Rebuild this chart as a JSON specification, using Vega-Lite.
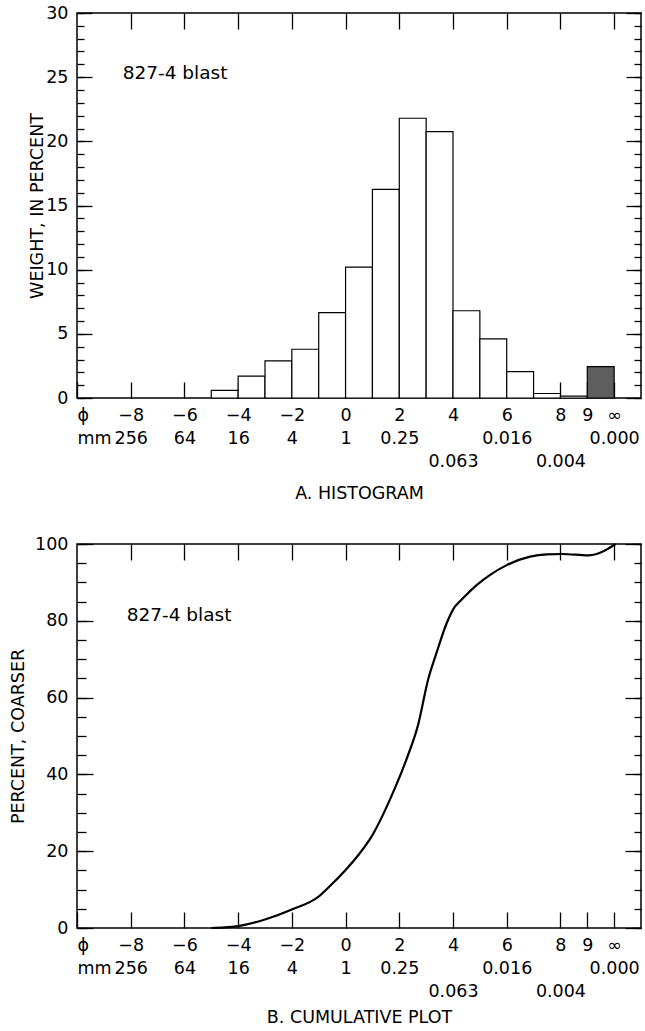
{
  "$schema": "https://vega.github.io/schema/vega-lite/v6.json",
  "background": "white",
  "padding": {"left": 8, "top": 3, "right": 3, "bottom": 3},
  "bounds": "flush",
  "spacing": 146,
  "config": {
    "font": "DejaVu Sans",
    "view": {"stroke": "black", "strokeWidth": 1.5},
    "axis": {
      "domain": false,
      "grid": false,
      "tickColor": "black",
      "tickWidth": 1.3,
      "labelColor": "black",
      "labelFont": "DejaVu Sans",
      "labelFontSize": 17.5,
      "titleFont": "DejaVu Sans",
      "titleFontSize": 17.5,
      "titleFontWeight": "normal",
      "titleColor": "black",
      "labelOverlap": false
    }
  },
  "vconcat": [
    {
      "width": 564,
      "height": 385,
      "data": {
        "values": [
          {"phi_lo": -5, "phi_hi": -4, "weight": 0.6, "part": "sieved"},
          {"phi_lo": -4, "phi_hi": -3, "weight": 1.7, "part": "sieved"},
          {"phi_lo": -3, "phi_hi": -2, "weight": 2.9, "part": "sieved"},
          {"phi_lo": -2, "phi_hi": -1, "weight": 3.8, "part": "sieved"},
          {"phi_lo": -1, "phi_hi": 0, "weight": 6.65, "part": "sieved"},
          {"phi_lo": 0, "phi_hi": 1, "weight": 10.2, "part": "sieved"},
          {"phi_lo": 1, "phi_hi": 2, "weight": 16.25, "part": "sieved"},
          {"phi_lo": 2, "phi_hi": 3, "weight": 21.8, "part": "sieved"},
          {"phi_lo": 3, "phi_hi": 4, "weight": 20.75, "part": "sieved"},
          {"phi_lo": 4, "phi_hi": 5, "weight": 6.8, "part": "sieved"},
          {"phi_lo": 5, "phi_hi": 6, "weight": 4.6, "part": "sieved"},
          {"phi_lo": 6, "phi_hi": 7, "weight": 2.05, "part": "sieved"},
          {"phi_lo": 7, "phi_hi": 8, "weight": 0.35, "part": "sieved"},
          {"phi_lo": 8, "phi_hi": 9, "weight": 0.15, "part": "sieved"},
          {"phi_lo": 9, "phi_hi": 10, "weight": 2.45, "part": "fines"}
        ]
      },
      "resolve": {"axis": {"x": "independent", "y": "independent"}},
      "layer": [
        {
          "mark": {"type": "bar", "stroke": "black", "strokeWidth": 1.2},
          "encoding": {
            "x": {
              "field": "phi_lo", "type": "quantitative",
              "scale": {"domain": [-10, 11], "nice": false, "zero": false},
              "axis": {
                "orient": "bottom",
                "values": [-10, -8, -6, -4, -2, 0, 2, 4, 6, 8, 9, 10],
                "tickSize": -16,
                "labelPadding": 24,
                "labelFlush": true,
                "labelLineHeight": 23,
                "labelExpr": "datum.value == -10 ? ['ϕ','mm'] : datum.value == -8 ? ['−8','256'] : datum.value == -6 ? ['−6','64'] : datum.value == -4 ? ['−4','16'] : datum.value == -2 ? ['−2','4'] : datum.value == 0 ? ['0','1'] : datum.value == 2 ? ['2','0.25'] : datum.value == 4 ? ['4','\u200b','0.063'] : datum.value == 6 ? ['6','0.016'] : datum.value == 8 ? ['8','\u200b','0.004'] : datum.value == 9 ? '9' : ['∞','0.000']",
                "title": "A. HISTOGRAM",
                "titlePadding": 15
              }
            },
            "x2": {"field": "phi_hi"},
            "y": {
              "field": "weight", "type": "quantitative",
              "scale": {"domain": [0, 30], "nice": false},
              "axis": {
                "orient": "left",
                "values": [0, 5, 10, 15, 20, 25, 30],
                "tickSize": -15,
                "labelPadding": 24,
                "title": "WEIGHT, IN PERCENT",
                "titlePadding": -1
              }
            },
            "y2": {"datum": 0},
            "fill": {
              "field": "part", "type": "nominal",
              "scale": {"domain": ["sieved", "fines"], "range": ["white", "#5e5e5e"]},
              "legend": null
            }
          }
        },
        {
          "mark": {"type": "point", "opacity": 0},
          "encoding": {
            "x": {"field": "phi_lo", "type": "quantitative",
              "axis": {"orient": "top", "values": [-8, -6, -4, -2, 0, 2, 4, 6, 8, 10], "labels": false, "tickSize": -16, "title": null}},
            "y": {"field": "weight", "type": "quantitative",
              "axis": {"orient": "right", "values": [0, 5, 10, 15, 20, 25, 30], "labels": false, "tickSize": -15, "title": null}}
          }
        },
        {
          "mark": {"type": "point", "opacity": 0},
          "encoding": {
            "x": {"field": "phi_lo", "type": "quantitative", "axis": null},
            "y": {"field": "weight", "type": "quantitative",
              "axis": {"orient": "left", "values": [0,1,2,3,4,5,6,7,8,9,10,11,12,13,14,15,16,17,18,19,20,21,22,23,24,25,26,27,28,29,30], "labels": false, "tickSize": -7, "title": null}}
          }
        },
        {
          "mark": {"type": "point", "opacity": 0},
          "encoding": {
            "x": {"field": "phi_lo", "type": "quantitative", "axis": null},
            "y": {"field": "weight", "type": "quantitative",
              "axis": {"orient": "right", "values": [0,1,2,3,4,5,6,7,8,9,10,11,12,13,14,15,16,17,18,19,20,21,22,23,24,25,26,27,28,29,30], "labels": false, "tickSize": -7, "title": null}}
          }
        },
        {
          "data": {"values": [{"label": "827-4 blast"}]},
          "mark": {"type": "text", "align": "left", "baseline": "middle", "fontSize": 18.5, "font": "DejaVu Sans", "color": "black"},
          "encoding": {
            "x": {"datum": -8.3, "type": "quantitative", "axis": null},
            "y": {"datum": 25.3, "type": "quantitative", "axis": null},
            "text": {"field": "label"}
          }
        }
      ]
    },
    {
      "width": 564,
      "height": 384,
      "data": {
        "values": [
          {"phi": -5, "pct": 0},
          {"phi": -4.5, "pct": 0.15},
          {"phi": -4, "pct": 0.5},
          {"phi": -3, "pct": 2.2},
          {"phi": -2, "pct": 4.8},
          {"phi": -1, "pct": 8.2},
          {"phi": -0.6, "pct": 10.8},
          {"phi": 0, "pct": 15.1},
          {"phi": 0.5, "pct": 19.2},
          {"phi": 1, "pct": 24.2},
          {"phi": 1.7, "pct": 34.2},
          {"phi": 2.26, "pct": 43.8},
          {"phi": 2.7, "pct": 52.9},
          {"phi": 3.07, "pct": 64.6},
          {"phi": 3.38, "pct": 71.5},
          {"phi": 3.76, "pct": 79.3},
          {"phi": 4.07, "pct": 83.7},
          {"phi": 4.25, "pct": 85.0},
          {"phi": 4.88, "pct": 89.3},
          {"phi": 5.37, "pct": 91.9},
          {"phi": 6.0, "pct": 94.5},
          {"phi": 6.87, "pct": 96.7},
          {"phi": 7.49, "pct": 97.3},
          {"phi": 8.07, "pct": 97.4},
          {"phi": 9.04, "pct": 97.05},
          {"phi": 9.35, "pct": 97.4},
          {"phi": 9.73, "pct": 98.6},
          {"phi": 10.05, "pct": 100}
        ]
      },
      "resolve": {"axis": {"x": "independent", "y": "independent"}},
      "layer": [
        {
          "mark": {"type": "line", "color": "black", "strokeWidth": 2.2, "interpolate": "monotone"},
          "encoding": {
            "x": {
              "field": "phi", "type": "quantitative",
              "scale": {"domain": [-10, 11], "nice": false, "zero": false},
              "axis": {
                "orient": "bottom",
                "values": [-10, -8, -6, -4, -2, 0, 2, 4, 6, 8, 9, 10],
                "tickSize": -16,
                "labelPadding": 24,
                "labelFlush": true,
                "labelLineHeight": 23,
                "labelExpr": "datum.value == -10 ? ['ϕ','mm'] : datum.value == -8 ? ['−8','256'] : datum.value == -6 ? ['−6','64'] : datum.value == -4 ? ['−4','16'] : datum.value == -2 ? ['−2','4'] : datum.value == 0 ? ['0','1'] : datum.value == 2 ? ['2','0.25'] : datum.value == 4 ? ['4','\u200b','0.063'] : datum.value == 6 ? ['6','0.016'] : datum.value == 8 ? ['8','\u200b','0.004'] : datum.value == 9 ? '9' : ['∞','0.000']",
                "title": "B. CUMULATIVE PLOT",
                "titlePadding": 9
              }
            },
            "y": {
              "field": "pct", "type": "quantitative",
              "scale": {"domain": [0, 100], "nice": false},
              "axis": {
                "orient": "left",
                "values": [0, 20, 40, 60, 80, 100],
                "tickSize": -16,
                "labelPadding": 25,
                "title": "PERCENT, COARSER",
                "titlePadding": 7
              }
            }
          }
        },
        {
          "mark": {"type": "point", "opacity": 0},
          "encoding": {
            "x": {"field": "phi", "type": "quantitative",
              "axis": {"orient": "top", "values": [-8, -6, -4, -2, 0, 2, 4, 6, 8, 10], "labels": false, "tickSize": -16, "title": null}},
            "y": {"field": "pct", "type": "quantitative",
              "axis": {"orient": "right", "values": [0, 20, 40, 60, 80, 100], "labels": false, "tickSize": -16, "title": null}}
          }
        },
        {
          "mark": {"type": "point", "opacity": 0},
          "encoding": {
            "x": {"field": "phi", "type": "quantitative", "axis": null},
            "y": {"field": "pct", "type": "quantitative",
              "axis": {"orient": "left", "values": [0,5,10,15,20,25,30,35,40,45,50,55,60,65,70,75,80,85,90,95,100], "labels": false, "tickSize": -9, "title": null}}
          }
        },
        {
          "mark": {"type": "point", "opacity": 0},
          "encoding": {
            "x": {"field": "phi", "type": "quantitative", "axis": null},
            "y": {"field": "pct", "type": "quantitative",
              "axis": {"orient": "right", "values": [0,5,10,15,20,25,30,35,40,45,50,55,60,65,70,75,80,85,90,95,100], "labels": false, "tickSize": -7, "title": null}}
          }
        },
        {
          "data": {"values": [{"label": "827-4 blast"}]},
          "mark": {"type": "text", "align": "left", "baseline": "middle", "fontSize": 18.5, "font": "DejaVu Sans", "color": "black"},
          "encoding": {
            "x": {"datum": -8.15, "type": "quantitative", "axis": null},
            "y": {"datum": 81.6, "type": "quantitative", "axis": null},
            "text": {"field": "label"}
          }
        }
      ]
    }
  ]
}
